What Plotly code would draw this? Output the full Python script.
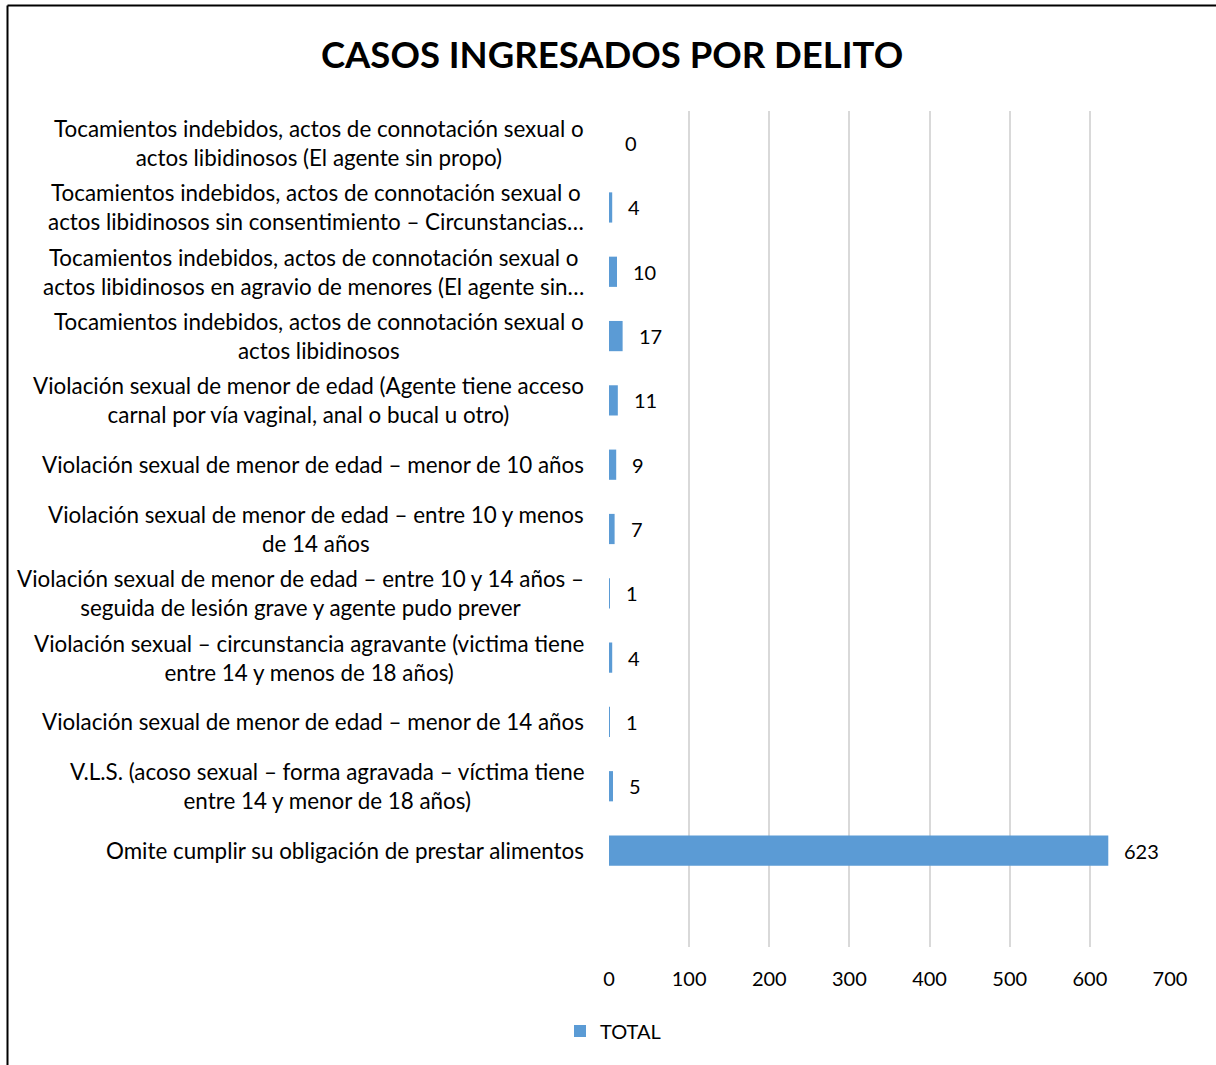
import plotly.graph_objects as go

# Data (top to bottom as shown)
categories = [
    "Tocamientos indebidos, actos de connotación sexual o<br>actos libidinosos (El agente sin propo)",
    "Tocamientos indebidos, actos de connotación sexual o<br>actos libidinosos sin consentimiento – Circunstancias…",
    "Tocamientos indebidos, actos de connotación sexual o<br>actos libidinosos en agravio de menores (El agente sin…",
    "Tocamientos indebidos, actos de connotación sexual o<br>actos libidinosos",
    "Violación sexual de menor de edad (Agente tiene acceso<br>carnal por vía vaginal, anal o bucal u otro)",
    "Violación sexual de menor de edad – menor de 10 años",
    "Violación sexual de menor de edad – entre 10 y menos<br>de 14 años",
    "Violación sexual de menor de edad – entre 10 y 14 años –<br>seguida de lesión grave y agente pudo prever",
    "Violación sexual – circunstancia agravante (victima tiene<br>entre 14 y menos de 18 años)",
    "Violación sexual de menor de edad – menor de 14 años",
    "V.L.S. (acoso sexual – forma agravada – víctima tiene<br>entre 14 y menor de 18 años)",
    "Omite cumplir su obligación de prestar alimentos",
]
totals = [0, 4, 10, 17, 11, 9, 7, 1, 4, 1, 5, 623]
x_ticks = [0, 100, 200, 300, 400, 500, 600, 700]
series_name = "TOTAL"
title_text = "CASOS INGRESADOS POR DELITO"

W, H = 1216, 1065
L, R, T, B = 609, 46, 111, 118
PW, PH = W - L - R, H - T - B

n = len(categories)
ypos = [n - 1 - i for i in range(n)]  # top item highest

FONT = "Lato"
TXT = "#000000"
BLUE = "#5B9BD5"

fig = go.Figure()
fig.add_trace(go.Bar(
    x=totals, y=ypos, orientation="h", name=series_name,
    marker=dict(color=BLUE, line=dict(width=0)),
    width=0.47, showlegend=True,
))

annotations = []
for cat, v, yp in zip(categories, totals, ypos):
    annotations.append(dict(
        x=-0.041, xref="paper", y=yp, yref="y", text=cat, showarrow=False,
        xanchor="right", yanchor="middle", align="center",
        font=dict(family=FONT, size=22.4, color=TXT),
    ))
    annotations.append(dict(
        x=v, xref="x", y=yp, yref="y", text=str(v), showarrow=False,
        xanchor="left", yanchor="middle", xshift=14,
        font=dict(family=FONT, size=20, color=TXT),
    ))

def px2x(px):
    return (px - L) / PW

def py2y(py):
    return (H - B - py) / PH

shapes = [
    dict(type="line", xref="paper", yref="paper",
         x0=px2x(7.5), x1=px2x(W + 5), y0=py2y(5.5), y1=py2y(5.5),
         line=dict(color="black", width=2)),
    dict(type="line", xref="paper", yref="paper",
         x0=px2x(7.5), x1=px2x(7.5), y0=py2y(5.5), y1=py2y(H + 5),
         line=dict(color="black", width=2)),
]

fig.update_layout(
    width=W, height=H,
    margin=dict(l=L, r=R, t=T, b=B),
    paper_bgcolor="white", plot_bgcolor="white",
    font=dict(family=FONT, color=TXT),
    title=dict(text="<b>" + title_text + "</b>", x=612 / W, xanchor="center",
               y=1 - 55 / H, yanchor="middle",
               font=dict(family=FONT, size=36.5, color=TXT)),
    xaxis=dict(range=[0, 700], tickvals=x_ticks, showgrid=True,
               gridcolor="#d9d9d9", gridwidth=1.5, zeroline=False,
               showline=False, ticks="", tickfont=dict(family=FONT, size=20, color=TXT),
               ticklabelstandoff=18, fixedrange=True),
    yaxis=dict(range=[-1.5, n - 0.5], showticklabels=False, showgrid=False,
               zeroline=False, showline=False, ticks="", fixedrange=True),
    legend=dict(orientation="h", x=560 / W, xanchor="left", xref="container",
                y=1 - 1031 / H, yanchor="middle", yref="container",
                font=dict(family=FONT, size=20, color=TXT),
                itemwidth=30),
    annotations=annotations,
    shapes=shapes,
    bargap=0.5,
)

fig.write_html("out.html", config={"displayModeBar": False},
               post_script="document.body.style.margin='0';document.body.style.overflow='hidden';")
